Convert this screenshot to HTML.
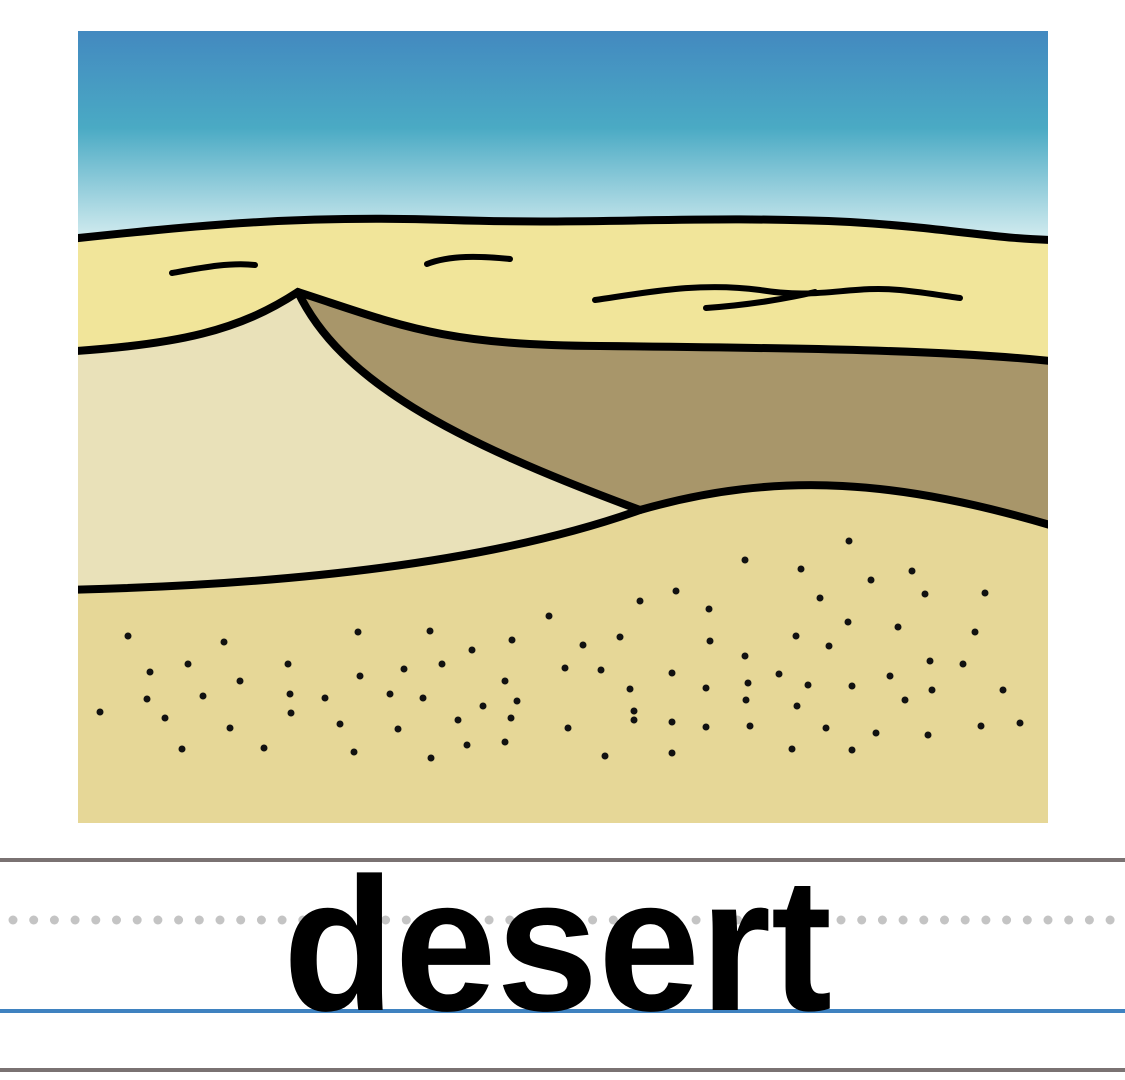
<!DOCTYPE html>
<html><head><meta charset="utf-8"><style>
html,body{margin:0;padding:0;background:#fff;width:1125px;height:1080px;overflow:hidden}
</style></head><body>
<svg width="1125" height="1080" viewBox="0 0 1125 1080">
<defs>
<linearGradient id="sky" x1="0" y1="0" x2="0" y2="1">
<stop offset="0" stop-color="#4389c0"/><stop offset="0.45" stop-color="#4aaac4"/><stop offset="1" stop-color="#dcf0f2"/>
</linearGradient>
<clipPath id="pic"><rect x="78" y="31" width="970" height="792"/></clipPath>
</defs>
<g clip-path="url(#pic)">
<rect x="78" y="31" width="970" height="215" fill="url(#sky)"/>
<path d="M60,240 C200,225 300,215 450,220 C600,225 700,215 850,222 C950,228 1000,240 1060,240 L1060,830 L60,830 Z" fill="#f1e59a"/>
<path d="M60,352 C180,345 240,330 298,292 C340,380 450,440 640,510 C500,560 300,585 60,590 Z" fill="#e9e1b9"/>
<path d="M298,292 C400,325 440,345 600,346 C800,348 950,350 1060,362 L1060,528 C900,480 780,470 640,510 C450,440 340,380 298,292 Z" fill="#a8966a"/>
<path d="M60,590 C300,585 500,560 640,510 C780,470 900,480 1060,528 L1060,830 L60,830 Z" fill="#e6d797"/>
<g fill="none" stroke="#000" stroke-width="8" stroke-linecap="round">
<path d="M60,240 C200,225 300,215 450,220 C600,225 700,215 850,222 C950,228 1000,240 1060,240"/>
<path d="M60,352 C180,345 240,330 298,292 C400,325 440,345 600,346 C800,348 950,350 1060,362"/>
<path d="M298,292 C340,380 450,440 640,510"/>
<path d="M60,590 C300,585 500,560 640,510 C780,470 900,480 1060,528"/>
<path d="M172,273 C200,268 230,262 255,265" stroke-width="6"/>
<path d="M427,264 C450,255 480,256 510,259" stroke-width="6"/>
<path d="M595,300 C650,292 700,282 760,290 C820,300 850,285 900,290 C930,293 950,297 960,298" stroke-width="6"/>
<path d="M706,308 C750,305 790,298 815,292" stroke-width="6"/>
</g>
<g fill="#111" id="dots"></g>
</g>
<rect x="0" y="858" width="1125" height="4" fill="#7a7272"/>
<g fill="#c4c4c4" id="dotline"></g>
<rect x="0" y="1009" width="1125" height="4" fill="#3f82c0"/>
<rect x="0" y="1068" width="1125" height="4" fill="#7a7272"/>
<text x="283" y="1010" font-family="Liberation Sans, sans-serif" font-weight="bold" font-size="190" textLength="549" lengthAdjust="spacingAndGlyphs" fill="#000">desert</text>
</svg>
<script>
var pts=[[128,636],[224,642],[358,632],[430,631],[512,640],[549,616],[640,601],[676,591],[709,609],[745,560],[801,569],[849,541],[871,580],[912,571],[820,598],[925,594],[985,593],[975,632],[848,622],[898,627],[796,636],[829,646],[710,641],[745,656],[620,637],[583,645],[472,650],[150,672],[188,664],[240,681],[288,664],[360,676],[404,669],[442,664],[505,681],[565,668],[601,670],[672,673],[779,674],[852,686],[890,676],[930,661],[963,664],[1003,690],[932,690],[905,700],[808,685],[748,683],[706,688],[630,689],[517,701],[483,706],[423,698],[390,694],[325,698],[290,694],[203,696],[147,699],[100,712],[165,718],[230,728],[291,713],[340,724],[398,729],[458,720],[511,718],[568,728],[634,711],[672,722],[706,727],[746,700],[797,706],[826,728],[876,733],[928,735],[981,726],[1020,723],[182,749],[264,748],[354,752],[431,758],[467,745],[505,742],[605,756],[672,753],[792,749],[852,750],[750,726],[634,720]];
var g=document.getElementById('dots');
pts.forEach(function(p){var c=document.createElementNS('http://www.w3.org/2000/svg','circle');c.setAttribute('cx',p[0]);c.setAttribute('cy',p[1]);c.setAttribute('r',3.5);


g.appendChild(c);});
var d=document.getElementById('dotline');
for(var x=13;x<1125;x+=20.7){var c=document.createElementNS('http://www.w3.org/2000/svg','circle');c.setAttribute('cx',x);c.setAttribute('cy',920);c.setAttribute('r',4.5);


d.appendChild(c);}
</script>
</body></html>
